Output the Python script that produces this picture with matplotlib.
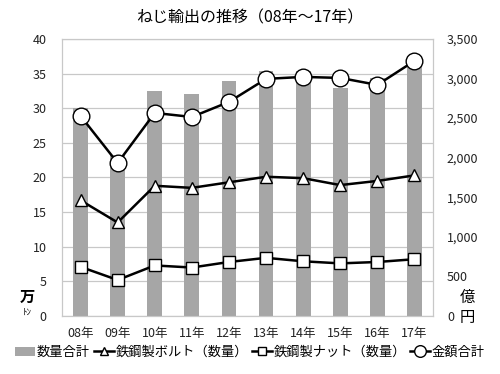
import numpy as np
import matplotlib
matplotlib.use("Agg")
import matplotlib.pyplot as plt

plt.rcParams['font.family'] = ['Noto Sans CJK JP', 'DejaVu Sans']

years = ["08年", "09年", "10年", "11年", "12年", "13年", "14年", "15年", "16年", "17年"]
qty_total = [30.0, 23.2, 32.5, 32.0, 33.9, 35.3, 35.3, 32.9, 34.4, 36.4]      # 万トン
bolt_qty = [16.7, 13.5, 18.8, 18.5, 19.3, 20.1, 19.9, 18.9, 19.5, 20.3]       # 万トン
nut_qty = [7.1, 5.2, 7.3, 7.0, 7.8, 8.4, 7.9, 7.6, 7.8, 8.2]                  # 万トン
value_total = [2527, 1933, 2565, 2514, 2704, 2995, 3020, 3007, 2919, 3222]    # 億円

fig = plt.figure(figsize=(5.0, 3.74), dpi=100)
ax = fig.add_axes([0.124, 0.155, 0.742, 0.741])
ax2 = ax.twinx()

x = np.arange(len(years))
bars = ax.bar(x, qty_total, width=0.4, color="#a6a6a6", zorder=2, label="数量合計")
lb, = ax.plot(x, bolt_qty, color="black", lw=1.8, marker="^", ms=9,
              mfc="white", mec="black", mew=1, zorder=3, label="鉄鋼製ボルト（数量）")
ln, = ax.plot(x, nut_qty, color="black", lw=1.8, marker="s", ms=8,
              mfc="white", mec="black", mew=1, zorder=3, label="鉄鋼製ナット（数量）")
lv, = ax2.plot(x, value_total, color="black", lw=1.8, marker="o", ms=12,
               mfc="white", mec="black", mew=1, zorder=3, label="金額合計")

ax.set_xlim(-0.5, len(years) - 0.5)
ax.set_ylim(0, 40)
ax.set_yticks(range(0, 41, 5))
ax2.set_ylim(0, 3500)
ax2.set_yticks(range(0, 3501, 500))
ax2.set_yticklabels([f"{v:,}" for v in range(0, 3501, 500)])
ax.set_xticks(x)
ax.set_xticklabels(years)

ax.grid(axis="y", color="#c8c8c8", lw=0.9, zorder=0)
ax.set_axisbelow(True)
for a in (ax, ax2):
    for s in a.spines.values():
        s.set_color("#c8c8c8")
    a.tick_params(length=0, labelsize=9, colors="#222222")
ax.tick_params(axis="y", pad=11)
ax2.tick_params(axis="y", pad=10)
ax.tick_params(axis="x", pad=8)

fig.text(0.5, 0.952, "ねじ輸出の推移（08年～17年）", ha="center", va="center", fontsize=11.5)
fig.text(0.054, 0.207, "万", ha="center", va="center", fontsize=11, fontweight="bold")
fig.text(0.054, 0.165, "ﾄﾝ", ha="center", va="center", fontsize=6.5)
fig.text(0.934, 0.205, "億", ha="center", va="center", fontsize=11)
fig.text(0.934, 0.150, "円", ha="center", va="center", fontsize=11)

fig.legend(handles=[bars, lb, ln, lv], loc="center", ncol=4,
           bbox_to_anchor=(0.5, 0.058), frameon=False, fontsize=9.5,
           handlelength=1.5, handletextpad=0.15, columnspacing=0.3,
           markerscale=0.7, borderpad=0)

fig.savefig("out.png", dpi=100)
